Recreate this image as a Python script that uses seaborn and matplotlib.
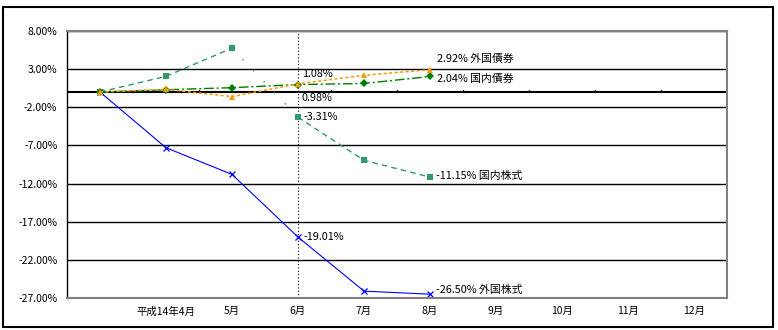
import matplotlib
matplotlib.use("Agg")
import matplotlib.pyplot as plt
import seaborn as sns
import numpy as np
from matplotlib.patches import Rectangle
from matplotlib.ticker import FuncFormatter, FixedLocator

sns.set_theme(style="white")
plt.rcParams['font.family'] = ['Noto Sans CJK JP', 'DejaVu Sans']

# ---- data ----
months = ["", "平成14年4月", "5月", "6月", "7月", "8月", "9月", "10月", "11月", "12月"]
foreign_stock = [0.0, -7.3, -10.8, -19.01, -26.1, -26.50]     # 外国株式
domestic_stock = [0.0, 2.06, 5.75, -3.31, -8.95, -11.15]      # 国内株式
domestic_bond = [0.0, 0.30, 0.57, 0.98, 1.12, 2.04]           # 国内債券
foreign_bond = [0.0, 0.35, -0.60, 1.08, 2.20, 2.92]           # 外国債券
y_ticks = [8, 3, -2, -7, -12, -17, -22, -27]

fig = plt.figure(figsize=(7.78, 3.30), dpi=100)
ax = fig.add_axes([67/778, 1-298/330, (727-67)/778, (298-31)/330])

xs = list(range(len(months)))
n = len(foreign_stock)

# foreign stocks (blue, x markers, solid)
sns.lineplot(x=xs[:n], y=foreign_stock, ax=ax, color="#0000FF", lw=0.8,
             marker="x", markersize=4, markeredgewidth=0.9, markeredgecolor="#0000FF")
# domestic stocks (green squares, dashed) - segments
sns.lineplot(x=xs[:3], y=domestic_stock[:3], ax=ax, color="#339966", lw=1.0,
             linestyle=(0, (4, 3)), marker="s", markersize=4.5, markeredgewidth=0)
sns.lineplot(x=xs[2:4], y=domestic_stock[2:4], ax=ax, color="#339966", lw=1.0,
             linestyle=(0, (1, 10)))
sns.lineplot(x=xs[3:n], y=domestic_stock[3:n], ax=ax, color="#339966", lw=1.0,
             linestyle=(0, (4, 3)), marker="s", markersize=4.5, markeredgewidth=0)
# domestic bonds (dark green diamonds, dash-dot)
sns.lineplot(x=xs[:n], y=domestic_bond, ax=ax, color="#008000", lw=1.0,
             linestyle=(0, (7, 2, 1.5, 2)), marker="D", markersize=3.8, markeredgewidth=0)
# foreign bonds (orange triangles, dotted)
sns.lineplot(x=xs[:n], y=foreign_bond, ax=ax, color="#FF9900", lw=1.1,
             linestyle=(0, (2, 1.6)), marker="^", markersize=5, markeredgewidth=0)

ax.set_xlim(-0.5, len(months) - 0.5)
ax.set_ylim(min(y_ticks), max(y_ticks))
ax.yaxis.set_major_locator(FixedLocator(y_ticks))
ax.yaxis.set_major_formatter(FuncFormatter(lambda v, p: f"{v:.2f}%"))
ax.set_xticks(xs)
ax.set_xticklabels(months)
ax.tick_params(axis="both", length=0, labelsize=7.5, colors="black")
ax.tick_params(axis="y", pad=7)
ax.tick_params(axis="x", pad=6)
ax.grid(False)
for t in y_ticks:
    ax.axhline(t, color="black", lw=1.0, zorder=0.5)
ax.axhline(0, color="black", lw=1.5, zorder=0.6)
for b in np.arange(0.5, len(months), 1.0):
    ax.plot([b, b], [0, 0.3], color="black", lw=1.0, zorder=0.6)
ax.axvline(3, color="black", lw=0.8, linestyle=(0, (1, 2)), zorder=0.7)

for side in ["top", "right", "bottom"]:
    ax.spines[side].set_color("#808080")
    ax.spines[side].set_linewidth(1.5)
ax.spines["left"].set_color("black")
ax.spines["left"].set_linewidth(1.0)
ax.set_xlabel("")
ax.set_ylabel("")

fs = 7.8
def lab(i, v, text, dx, dy):
    ax.annotate(text, xy=(i, v), xytext=(dx, dy), textcoords="offset pixels",
                ha="left", va="center", fontsize=fs, color="black")

last = n - 1
lab(last, foreign_bond[last], f"{foreign_bond[last]:.2f}% 外国債券", 7, 11)
lab(last, domestic_bond[last], f"{domestic_bond[last]:.2f}% 国内債券", 7, -2.5)
lab(3, foreign_bond[3], f"{foreign_bond[3]:.2f}%", 4, 9.5)
lab(3, domestic_bond[3], f"{domestic_bond[3]:.2f}%", 4, -13.5)
lab(3, domestic_stock[3], f"{domestic_stock[3]:.2f}%", 5, 0)
lab(last, domestic_stock[last], f"{domestic_stock[last]:.2f}% 国内株式", 6, 1)
lab(3, foreign_stock[3], f"{foreign_stock[3]:.2f}%", 6, 0)
lab(last, foreign_stock[last], f"{foreign_stock[last]:.2f}% 外国株式", 6, 4)

fig.patches.append(Rectangle((3/778, 3/330), 770/778, 320/330, transform=fig.transFigure,
                             fill=False, edgecolor="black", lw=1.5))

fig.savefig("out.png", dpi=100)
